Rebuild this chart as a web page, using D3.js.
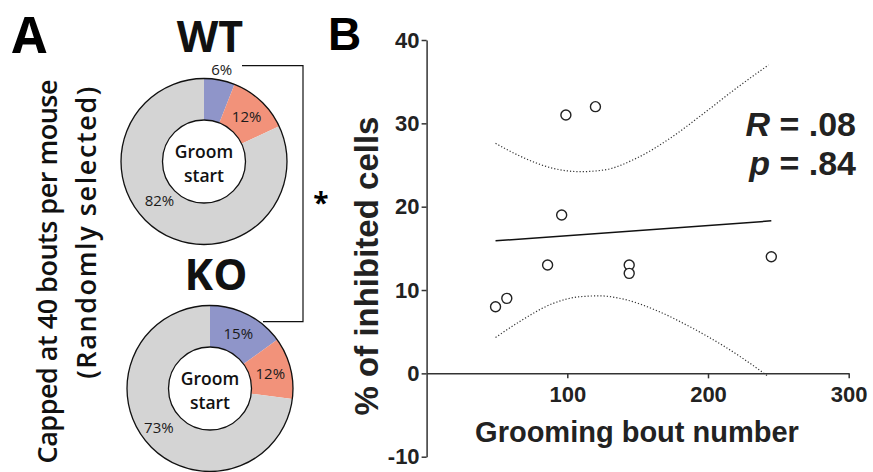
<!DOCTYPE html>
<html>
<head>
<meta charset="utf-8">
<script src="https://cdn.jsdelivr.net/npm/d3@7"></script>
<style>
  body { margin: 0; background: #fff; }
  svg { display: block; }
</style>
</head>
<body>
<div id="chart"></div>
<script>
// ---- panel A data: share of groom-start bouts ----
const sliceKeys = ["blue", "orange", "gray"];
const wtShares = [6, 12, 82];
const koShares = [15, 12, 73];
const groupNames = ["WT", "KO"];

// ---- panel B data ----
const boutNumber   = [49, 57, 86, 96, 99, 120, 144, 144, 245];
const inhibitedPct = [8, 9, 13, 19, 31, 32, 13, 12, 14];
const fitX = [49, 245];
const fitY = [15.9, 18.3];
const upperX = [49, 66, 90, 109, 126, 149, 173, 197, 220, 243];
const upperY = [27.6, 26.1, 24.6, 24.2, 24.4, 25.8, 28.2, 31.2, 34.2, 37.0];
const lowerX = [49, 66, 90, 109, 123, 140, 164, 187, 211, 239, 243];
const lowerY = [4.3, 6.2, 8.4, 9.2, 9.3, 8.9, 7.5, 5.6, 3.3, 0.1, -0.4];
const xTicks = [100, 200, 300];
const yTicks = [-10, 0, 10, 20, 30, 40];
const statR = ".08";
const statP = ".84";

const W = 873, H = 472;
const svg = d3.select("#chart").append("svg")
    .attr("width", W).attr("height", H);
svg.append("rect").attr("width", W).attr("height", H).attr("fill", "#fff");

const fontA = "'Open Sans', sans-serif";
const fontB = "'Liberation Sans', Arial, sans-serif";
const sliceColor = d3.scaleOrdinal()
    .domain(sliceKeys)
    .range(["#8f95c9", "#f2927a", "#d4d4d4"]);

// ================= panel A =================
svg.append("text").attr("x", 12).attr("y", 53)
    .attr("font-family", fontA).attr("font-weight", 700).attr("font-size", 50)
    .text("A");

// rotated side label
const side = svg.append("g").attr("font-family", fontA).attr("font-weight", 600)
    .attr("font-size", 27).attr("fill", "#111");
side.append("text").attr("transform", "translate(57,80) rotate(-90)")
    .attr("text-anchor", "end").attr("letter-spacing", -0.5)
    .text("Capped at 40 bouts per mouse");
side.append("text").attr("transform", "translate(96,85) rotate(-90)")
    .attr("text-anchor", "end").attr("letter-spacing", 1.6)
    .text("(Randomly selected)");

const rIn = 41.5, rOut = 83;
const pie = d3.pie().sort(null).value(d => d.v);
const arc = d3.arc().innerRadius(rIn).outerRadius(rOut);

const donuts = [
  { name: groupNames[0], shares: wtShares, cx: 204, cy: 161.5, titleY: 52,
    labelPos: [[94, null], [null, null], [59, 229]] },
  { name: groupNames[1], shares: koShares, cx: 210, cy: 388.5, titleY: 290,
    labelPos: [[null, null], [null, null], [64, 233]] }
];

donuts.forEach(dn => {
  const data = sliceKeys.map((k, i) => ({ k: k, v: dn.shares[i] }));
  const g = svg.append("g").attr("transform", `translate(${dn.cx},${dn.cy})`);
  const arcs = pie(data);
  g.selectAll("path.slice").data(arcs).join("path")
    .attr("class", "slice")
    .attr("d", arc)
    .attr("fill", d => sliceColor(d.data.k));
  g.append("circle").attr("r", rOut).attr("fill", "none").attr("stroke", "#111").attr("stroke-width", 1.3);
  g.append("circle").attr("r", rIn).attr("fill", "#fff").attr("stroke", "#111").attr("stroke-width", 1.3);

  g.selectAll("text.pct").data(arcs).join("text")
    .attr("class", "pct")
    .attr("transform", (d, i) => {
      const [rr, ang] = dn.labelPos[i];
      if (rr === null) return `translate(${arc.centroid(d)})`;
      const a = (ang === null ? (d.startAngle + d.endAngle) / 2 : ang * Math.PI / 180);
      return `translate(${rr * Math.sin(a)},${-rr * Math.cos(a)})`;
    })
    .attr("text-anchor", "middle").attr("dominant-baseline", "central")
    .attr("font-family", fontA).attr("font-size", 15).attr("fill", "#1a1a1a")
    .text(d => d.data.v + "%");

  g.append("text").attr("y", -11).attr("text-anchor", "middle").attr("dominant-baseline", "central")
    .attr("font-family", fontA).attr("font-weight", 600).attr("font-size", 17.5).attr("fill", "#111")
    .text("Groom");
  g.append("text").attr("y", 13).attr("text-anchor", "middle").attr("dominant-baseline", "central")
    .attr("font-family", fontA).attr("font-weight", 600).attr("font-size", 17.5).attr("fill", "#111")
    .text("start");

  svg.append("text").attr("x", dn.cx + 6).attr("y", dn.titleY).attr("text-anchor", "middle")
    .attr("font-family", fontA).attr("font-weight", 700).attr("font-size", 43).attr("fill", "#111")
    .text(dn.name);
});

// significance bracket
svg.append("path")
    .attr("d", "M242,65.7H303V321.7H263")
    .attr("fill", "none").attr("stroke", "#111").attr("stroke-width", 1.2);
svg.append("text").attr("x", 321).attr("y", 213).attr("text-anchor", "middle")
    .attr("font-family", fontA).attr("font-weight", 700).attr("font-size", 28)
    .text("*");

// ================= panel B =================
svg.append("text").attr("x", 328).attr("y", 50)
    .attr("font-family", fontB).attr("font-weight", 700).attr("font-size", 46)
    .text("B");

const x = d3.scaleLinear().domain([0, 300]).range([426.6, 848.7]);
const y = d3.scaleLinear().domain([-10, 40]).range([456.7, 40]);

const yAxis = svg.append("g").attr("transform", `translate(${x(0)},0)`)
    .call(d3.axisLeft(y).tickValues(yTicks).tickFormat(d => String(d))
      .tickSize(5).tickSizeOuter(0).tickPadding(2));
const xAxis = svg.append("g").attr("transform", `translate(0,${y(0)})`)
    .call(d3.axisBottom(x).tickValues(xTicks).tickFormat(d => String(d))
      .tickSize(5).tickSizeOuter(0).tickPadding(8));

[xAxis, yAxis].forEach(a => {
  a.select(".domain").attr("stroke", "#333").attr("stroke-width", 1.5);
  a.selectAll(".tick line").attr("stroke", "#333").attr("stroke-width", 1.5);
  a.selectAll(".tick text").attr("font-family", fontB).attr("font-weight", 700)
    .attr("font-size", 22).attr("fill", "#222");
});

// confidence band
const bandLine = d3.line().x(d => x(d[0])).y(d => y(d[1])).curve(d3.curveMonotoneX);
[[upperX, upperY], [lowerX, lowerY]].forEach(([xs, ys]) => {
  svg.append("path")
    .attr("d", bandLine(xs.map((v, i) => [v, ys[i]])))
    .attr("fill", "none").attr("stroke", "#333").attr("stroke-width", 1.2)
    .attr("stroke-dasharray", "1.2,2");
});

// regression fit
svg.append("path")
    .attr("d", d3.line().x(d => x(d[0])).y(d => y(d[1]))(fitX.map((v, i) => [v, fitY[i]])))
    .attr("fill", "none").attr("stroke", "#111").attr("stroke-width", 1.5);

// points
svg.append("g").selectAll("circle")
  .data(boutNumber.map((v, i) => [v, inhibitedPct[i]]))
  .join("circle")
    .attr("cx", d => x(d[0])).attr("cy", d => y(d[1]))
    .attr("r", 5).attr("fill", "#fff").attr("stroke", "#222").attr("stroke-width", 1.4);

// axis titles
svg.append("text").attr("transform", `translate(378,266) rotate(-90)`)
    .attr("text-anchor", "middle")
    .attr("font-family", fontB).attr("font-weight", 700).attr("font-size", 33).attr("fill", "#222")
    .text("% of inhibited cells");
svg.append("text").attr("x", 637).attr("y", 442).attr("text-anchor", "middle")
    .attr("font-family", fontB).attr("font-weight", 700).attr("font-size", 29).attr("fill", "#222")
    .text("Grooming bout number");

// stats
const stats = svg.append("g").attr("font-family", fontB).attr("font-weight", 700)
    .attr("font-size", 34).attr("fill", "#222").attr("text-anchor", "end");
const tR = stats.append("text").attr("x", 856).attr("y", 136);
tR.append("tspan").attr("font-style", "italic").text("R");
tR.append("tspan").text(" = " + statR);
const tP = stats.append("text").attr("x", 856).attr("y", 175);
tP.append("tspan").attr("font-style", "italic").text("p");
tP.append("tspan").text(" = " + statP);
</script>
</body>
</html>
